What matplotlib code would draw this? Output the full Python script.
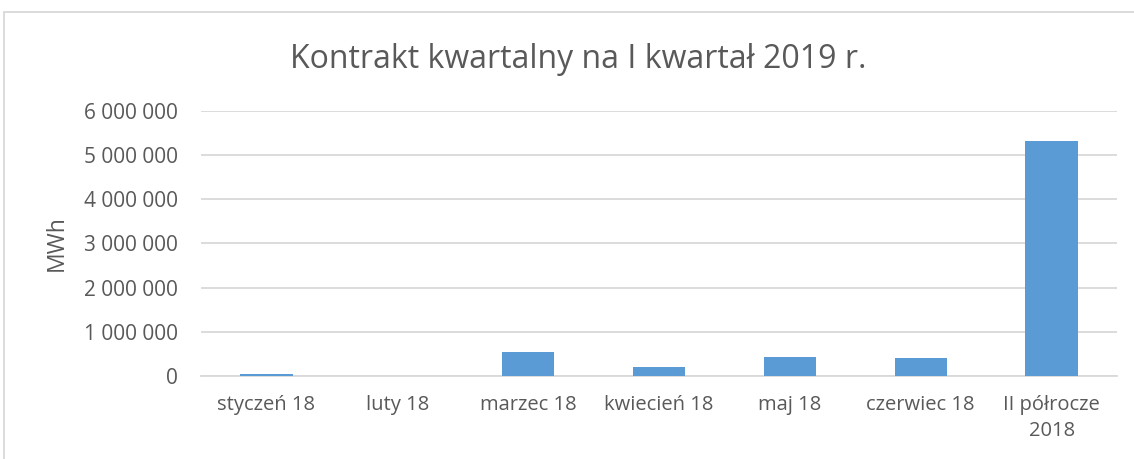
import matplotlib
matplotlib.use("Agg")
import matplotlib.pyplot as plt
from matplotlib.patches import Rectangle
from matplotlib.ticker import FuncFormatter

categories = ["styczeń 18", "luty 18", "marzec 18", "kwiecień 18", "maj 18", "czerwiec 18", "II półrocze\n2018"]
values = [40000, 0, 540000, 200000, 430000, 415000, 5320000]
yticks = [0, 1000000, 2000000, 3000000, 4000000, 5000000, 6000000]

plt.rcParams['font.family'] = ['Open Sans', 'DejaVu Sans']
fig = plt.figure(figsize=(11.34, 4.59), dpi=100)
ax = fig.add_axes([201/1134, 1-376/459, 916/1134, 265/459])

txt = "#595959"
ax.bar(range(len(categories)), values, width=0.4, color="#5b9bd5", zorder=3)
ax.set_xlim(-0.5, len(categories)-0.5)
ax.set_ylim(0, 6000000)
ax.set_yticks(yticks)
ax.yaxis.set_major_formatter(FuncFormatter(lambda v, p: f"{int(v):,}".replace(",", " ")))
ax.set_xticks(range(len(categories)))
ax.set_xticklabels(categories, linespacing=1.4)
ax.grid(axis="y", color="#d9d9d9", linewidth=1.3, zorder=0)
for s in ["top", "right", "left"]:
    ax.spines[s].set_visible(False)
ax.spines["bottom"].set_color("#d9d9d9")
ax.spines["bottom"].set_linewidth(1.3)
ax.tick_params(axis="both", length=0, colors=txt)
ax.tick_params(axis="x", labelsize=14.5, pad=14)
ax.tick_params(axis="y", labelsize=15, pad=16.5)
ax.set_ylabel("MWh", fontsize=16.5, color=txt)
ax.yaxis.set_label_coords((69-201)/916, 0.5)
fig.text(0.51, 1-60/459, "Kontrakt kwartalny na I kwartał 2019 r.", ha="center", va="center",
         fontsize=23, color=txt)
fig.patches.append(Rectangle((4/1134, -0.1), 1.2, 1-12/459+0.1, transform=fig.transFigure,
                             fill=False, edgecolor="#d9d9d9", linewidth=1.3))
fig.savefig("out.png", dpi=100)
